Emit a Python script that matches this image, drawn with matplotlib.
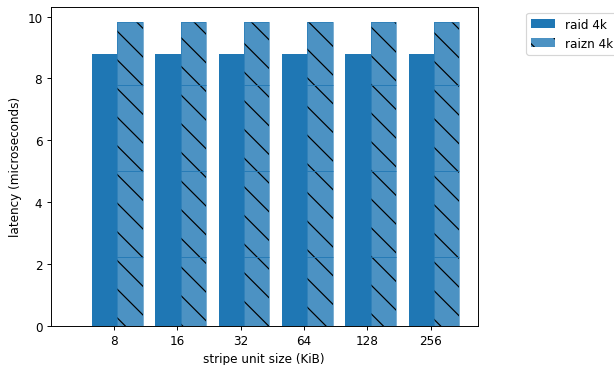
import numpy as np
import matplotlib
matplotlib.use('Agg')
import matplotlib.pyplot as plt

# stripe unit sizes (KiB)
stripe_sizes = ['8', '16', '32', '64', '128', '256']

# latency values (microseconds)
raid_4k = [8.80, 8.80, 8.80, 8.80, 8.80, 8.80]

# raizn 4k is drawn as stacked components
raizn_part1 = [2.22, 2.22, 2.22, 2.22, 2.22, 2.22]
raizn_part2 = [2.78, 2.78, 2.78, 2.78, 2.78, 2.78]
raizn_part3 = [2.79, 2.79, 2.79, 2.79, 2.79, 2.79]
raizn_part4 = [2.03, 2.03, 2.03, 2.03, 2.03, 2.03]

DPI = 86
fig = plt.figure(figsize=(614 / DPI, 366 / DPI), dpi=DPI)
ax = fig.add_axes([0.0826, 0.1074, 0.6954, 0.8706])

x = np.arange(len(stripe_sizes))
width = 0.4

ax.bar(x - 0.15, raid_4k, width, color='C0', label='raid 4k')

parts = [raizn_part1, raizn_part2, raizn_part3, raizn_part4]
bottom = np.zeros(len(x))
for i, part in enumerate(parts):
    ax.bar(x + 0.25, part, width, bottom=bottom, color='C0', alpha=0.8,
           hatch='\\', label='raizn 4k' if i == 0 else None)
    # thin seam between stacked components
    ax.bar(x + 0.25, part, width, bottom=bottom, fill=False,
           edgecolor='C0', linewidth=0.6, alpha=0.8)
    bottom += np.array(part)

ax.set_xticks(x)
ax.set_xticklabels(stripe_sizes)
ax.set_xlim(-1.0, 5.74)
ax.set_xlabel('stripe unit size (KiB)')
ax.set_ylabel('latency (microseconds)')
ax.legend(loc='upper left', bbox_to_anchor=(1.1, 1.0))

fig.savefig('out.png', dpi=DPI)
